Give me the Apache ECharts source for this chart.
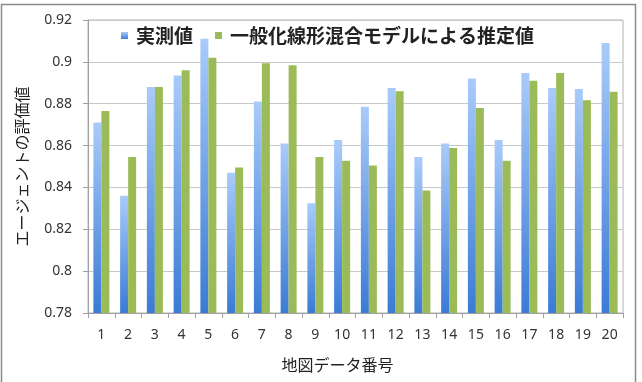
<!DOCTYPE html>
<html>
<head>
<meta charset="utf-8">
<script src="https://cdn.jsdelivr.net/npm/echarts@6/dist/echarts.min.js"></script>
<style>
  html, body { margin: 0; padding: 0; background: #fff; }
  #main { width: 642px; height: 382px; }
</style>
</head>
<body>
<div id="main"></div>
<script>
// データ
var categories = ['1','2','3','4','5','6','7','8','9','10','11','12','13','14','15','16','17','18','19','20'];
var measured  = [0.871,0.836,0.888,0.8935,0.911,0.847,0.881,0.861,0.8325,0.8627,0.8785,0.8875,0.8545,0.861,0.892,0.8627,0.8947,0.8875,0.887,0.909];
var estimated = [0.8765,0.8545,0.888,0.896,0.902,0.8495,0.8993,0.8984,0.8545,0.8527,0.8505,0.886,0.8385,0.8588,0.878,0.8527,0.891,0.8947,0.8817,0.8857];
var yMin = 0.78, yMax = 0.92, yStep = 0.02;

var jp = '"Noto Sans CJK JP", sans-serif';
var num = '"Noto Sans", "Noto Sans CJK JP", sans-serif';

var myChart = echarts.init(document.getElementById('main'));

var option = {
  backgroundColor: '#fff',
  animation: false,
  graphic: [{
    type: 'rect',
    shape: { x: 1.5, y: 4.5, width: 634, height: 390 },
    style: { fill: 'none', stroke: '#8a8a8a', lineWidth: 1.5 },
    silent: true
  }],
  grid: {
    left: 88, right: 19, top: 20, bottom: 69,
    show: true, borderColor: '#b4b4b4', borderWidth: 1
  },
  legend: {
    left: 116, top: 21,
    itemWidth: 7, itemHeight: 7, itemGap: 22,
    icon: 'rect',
    textStyle: { fontFamily: jp, fontSize: 19, fontWeight: 'bold', color: '#222', padding: [0, 0, 0, 3] },
    data: ['実測値', '一般化線形混合モデルによる推定値']
  },
  xAxis: {
    type: 'category',
    data: categories,
    name: '地図データ番号',
    nameLocation: 'middle',
    nameGap: 44,
    nameTextStyle: { fontFamily: jp, fontSize: 16, color: '#222', padding: [0, 36, 0, 0] },
    axisLine: { lineStyle: { color: '#a0a0a0' } },
    axisTick: { show: true, length: 5, lineStyle: { color: '#a0a0a0' } },
    axisLabel: { fontFamily: num, fontSize: 14, color: '#333', margin: 15 },
    splitLine: { show: false }
  },
  yAxis: {
    type: 'value',
    min: yMin, max: yMax, interval: yStep,
    name: 'エージェントの評価値',
    nameLocation: 'middle',
    nameGap: 58,
    nameTextStyle: { fontFamily: jp, fontSize: 16, color: '#222' },
    axisLine: { show: true, lineStyle: { color: '#a0a0a0' } },
    axisTick: { show: true, length: 5, lineStyle: { color: '#a0a0a0' } },
    axisLabel: {
      fontFamily: num, fontSize: 14, color: '#333', margin: 16,
      formatter: function (v) { return String(parseFloat(v.toFixed(2))); }
    },
    splitLine: { lineStyle: { color: '#c8c8c8' } }
  },
  series: [{
    name: '実測値',
    type: 'bar',
    data: measured,
    barWidth: 8,
    barGap: '0%',
    itemStyle: {
      color: new echarts.graphic.LinearGradient(0, 0, 0, 1, [
        { offset: 0, color: '#a9cbfa' },
        { offset: 1, color: '#3a7bd5' }
      ])
    }
  }, {
    name: '一般化線形混合モデルによる推定値',
    type: 'bar',
    data: estimated,
    barWidth: 8,
    barGap: '0%',
    itemStyle: { color: '#9bbb59' }
  }]
};

myChart.setOption(option);
</script>
</body>
</html>
